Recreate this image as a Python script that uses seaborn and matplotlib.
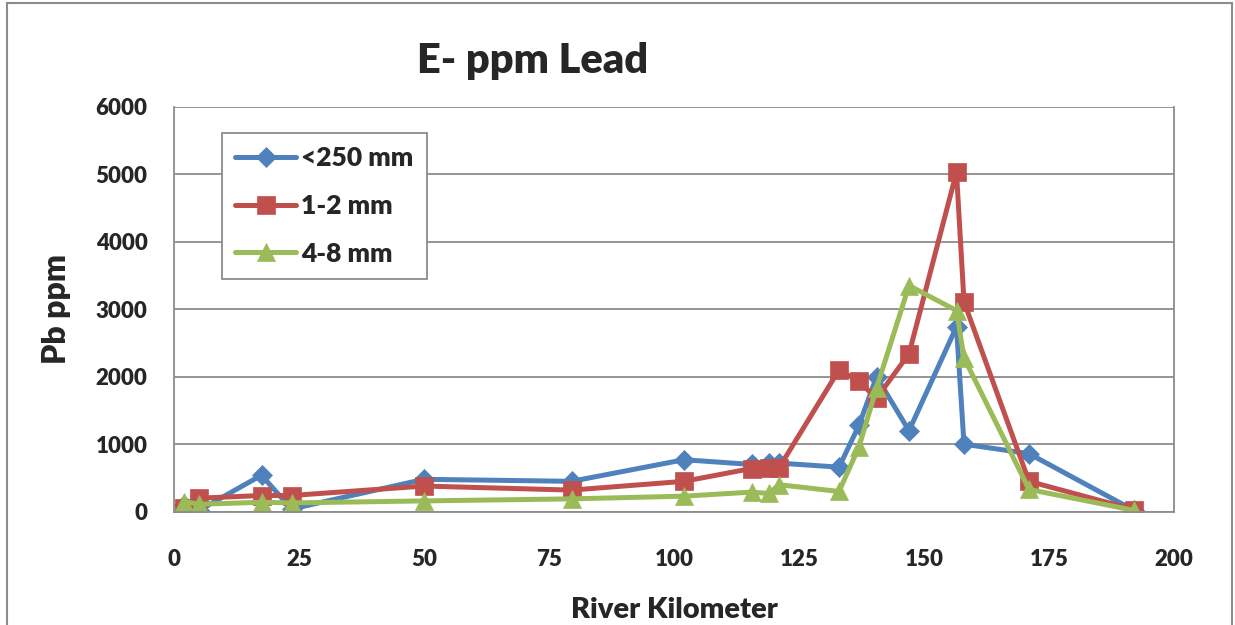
import pandas as pd
import matplotlib.pyplot as plt
import seaborn as sns
from matplotlib.patches import Rectangle

# values
river_km = [2, 5, 17.5, 23.5, 50, 79.5, 102, 115.5, 119, 121, 133, 137, 140.5, 147, 156.5, 158, 171, 192]
pb_fine = [100, 20, 540, 40, 480, 450, 770, 700, 720, 720, 660, 1280, 2000, 1200, 2740, 1000, 860, 20]
pb_1_2 = [60, 200, 240, 240, 380, 320, 450, 640, 650, 650, 2100, 1930, 1680, 2340, 5030, 3110, 450, 30]
pb_4_8 = [150, 110, 140, 130, 160, 190, 230, 290, 270, 400, 300, 960, 1830, 3350, 2980, 2280, 330, 20]

series_names = ["<250 mm", "1-2 mm", "4-8 mm"]
series_values = [pb_fine, pb_1_2, pb_4_8]
colors = ["#4F81BD", "#C0504D", "#9BBB59"]
markers = ["D", "s", "^"]
marker_sizes = [10.5, 12.5, 13.5]

sns.set_style("white")
plt.rcParams["font.family"] = ["Lato", "DejaVu Sans"]
plt.rcParams["font.weight"] = "heavy"

fig = plt.figure(figsize=(12.35, 6.25), dpi=100)
ax = fig.add_axes([174 / 1235, 1 - 511.7 / 625, 1000 / 1235, 405 / 625])

for name, vals, c, m, ms in zip(series_names, series_values, colors, markers, marker_sizes):
    df = pd.DataFrame({"km": river_km, "ppm": vals})
    sns.lineplot(data=df, x="km", y="ppm", ax=ax, color=c, marker=m, markersize=ms,
                 markeredgecolor=c, markeredgewidth=0.5, linewidth=3.6, label=name)

ax.set_xlim(0, 200)
ax.set_ylim(0, 6000)
ax.set_xticks(range(0, 201, 25))
ax.set_yticks(range(0, 6001, 1000))
ax.yaxis.grid(True, color="#8c8c8c", linewidth=1.3)
ax.xaxis.grid(False)
for side in ["left", "bottom", "right"]:
    ax.spines[side].set_color("#8c8c8c")
    ax.spines[side].set_linewidth(1.3)
ax.spines["top"].set_visible(False)
ax.tick_params(axis="both", direction="out", length=7, width=1.3, color="#8c8c8c",
               labelsize=16, pad=12)
ax.tick_params(axis="x", pad=20)
for lbl in ax.get_xticklabels() + ax.get_yticklabels():
    lbl.set_fontweight("heavy")

ax.set_xlabel("River Kilometer", fontsize=21, fontweight="heavy", labelpad=19)
ax.set_ylabel("Pb ppm", fontsize=23, fontweight="heavy", labelpad=18)
fig.text(533 / 1235, 1 - 61 / 625, "E- ppm Lead", ha="center", va="center",
         fontsize=30, fontweight="heavy")

leg = ax.legend(loc="upper left", bbox_to_anchor=(0.048, 0.935), borderaxespad=0,
                fancybox=False, framealpha=1, edgecolor="#8c8c8c", fontsize=19,
                handlelength=2.3, labelspacing=0.9, handletextpad=0.2,
                borderpad=0.5)
leg.get_frame().set_linewidth(1.3)
for t in leg.get_texts():
    t.set_fontweight("heavy")

# outer chart border
fig.patches.append(Rectangle((7 / 1235, -0.05), 1225 / 1235, 1.045, transform=fig.transFigure,
                             fill=False, edgecolor="#8c8c8c", linewidth=1.5))

fig.savefig("out.png", dpi=100)
